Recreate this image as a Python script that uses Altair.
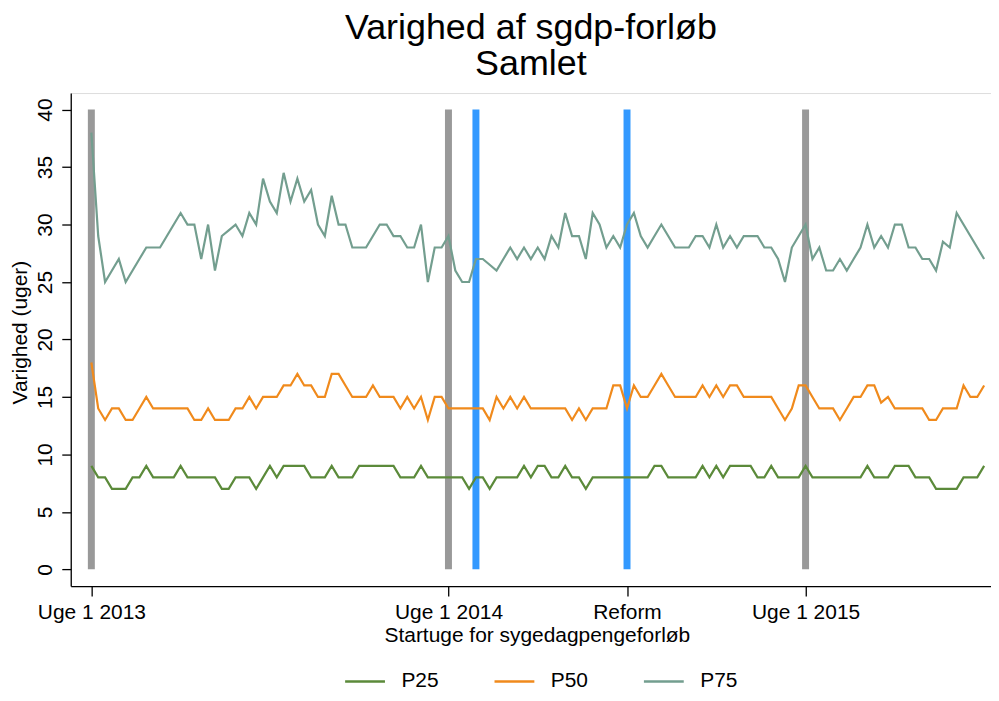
import altair as alt
import pandas as pd

FONT = "Liberation Sans"

weeks = list(range(131))

p25 = [9, 8, 8, 7, 7, 7, 8, 8, 9, 8,
       8, 8, 8, 9, 8, 8, 8, 8, 8, 7,
       7, 8, 8, 8, 7, 8, 9, 8, 9, 9,
       9, 9, 8, 8, 8, 9, 8, 8, 8, 9,
       9, 9, 9, 9, 9, 8, 8, 8, 9, 8,
       8, 8, 8, 8, 8, 7, 8, 8, 7, 8,
       8, 8, 8, 9, 8, 9, 9, 8, 8, 9,
       8, 8, 7, 8, 8, 8, 8, 8, 8, 8,
       8, 8, 9, 9, 8, 8, 8, 8, 8, 9,
       8, 9, 8, 9, 9, 9, 9, 8, 8, 9,
       8, 8, 8, 8, 9, 8, 8, 8, 8, 8,
       8, 8, 8, 9, 8, 8, 8, 9, 9, 9,
       8, 8, 8, 7, 7, 7, 7, 8, 8, 8,
       9]

p50 = [18, 14, 13, 14, 14, 13, 13, 14, 15, 14,
       14, 14, 14, 14, 14, 13, 13, 14, 13, 13,
       13, 14, 14, 15, 14, 15, 15, 15, 16, 16,
       17, 16, 16, 15, 15, 17, 17, 16, 15, 15,
       15, 16, 15, 15, 15, 14, 15, 14, 15, 13,
       15, 15, 14, 14, 14, 14, 14, 14, 13, 15,
       14, 15, 14, 15, 14, 14, 14, 14, 14, 14,
       13, 14, 13, 14, 14, 14, 16, 16, 14, 16,
       15, 15, 16, 17, 16, 15, 15, 15, 15, 16,
       15, 16, 15, 16, 16, 15, 15, 15, 15, 15,
       14, 13, 14, 16, 16, 15, 14, 14, 14, 13,
       14, 15, 15, 16, 16, 14.5, 15, 14, 14, 14,
       14, 14, 13, 13, 14, 14, 14, 16, 15, 15,
       16]

p75 = [38, 29, 25, 26, 27, 25, 26, 27, 28, 28,
       28, 29, 30, 31, 30, 30, 27, 30, 26, 29,
       29.5, 30, 29, 31, 30, 34, 32, 31, 34.5, 32,
       34, 32, 33, 30, 29, 32.5, 30, 30, 28, 28,
       28, 29, 30, 30, 29, 29, 28, 28, 30, 25,
       28, 28, 29, 26, 25, 25, 27, 27, 26.5, 26,
       27, 28, 27, 28, 27, 28, 27, 29, 28, 31,
       29, 29, 27, 31, 30, 28, 29, 28, 30, 31,
       29, 28, 29, 30, 29, 28, 28, 28, 29, 29,
       28, 30, 28, 29, 28, 29, 29, 29, 28, 28,
       27, 25, 28, 29, 30, 27, 28, 26, 26, 27,
       26, 27, 28, 30, 28, 29, 28, 30, 30, 28,
       28, 27, 27, 26, 28.5, 28, 31, 30, 29, 28,
       27]

series_names = ["P25", "P50", "P75"]
series_colors = ["#5b8a3a", "#f08a1c", "#739e8f"]

gray_weeks = [0, 52, 104]
blue_weeks = [56, 78]
bar_low = 0
bar_high = 40

tick_weeks = [0, 52, 78, 104]
tick_labels = ["Uge 1 2013", "Uge 1 2014", "Reform", "Uge 1 2015"]
y_ticks = [0, 5, 10, 15, 20, 25, 30, 35, 40]

rows = []
for name, vals in zip(series_names, [p25, p50, p75]):
    for w, v in zip(weeks, vals):
        rows.append({"week": w, "value": v, "serie": name})
df = pd.DataFrame(rows)

gray_df = pd.DataFrame({"week": gray_weeks, "lo": bar_low, "hi": bar_high})
blue_df = pd.DataFrame({"week": blue_weeks, "lo": bar_low, "hi": bar_high})

label_expr = " : ".join(
    f"datum.value == {w} ? '{l}'" for w, l in zip(tick_weeks, tick_labels)
) + " : ''"

xscale = alt.Scale(domain=[-3, 131], nice=False, zero=False)
yscale = alt.Scale(domain=[-1.45, 41.44], nice=False, zero=False)

xaxis = alt.Axis(
    title="Startuge for sygedagpengeforløb",
    values=tick_weeks, labelExpr=label_expr, grid=False,
    domainColor="black", domainWidth=1.3, tickColor="black", tickWidth=1.3,
    tickSize=10, labelPadding=6, labelFontSize=21, labelFont=FONT,
    labelColor="black", titleFontSize=21, titleFont=FONT,
    titleFontWeight="normal", titleColor="black",
    titleBaseline="alphabetic", titleY=56, titleX=468, titleAlign="center",
    labelOverlap=False, labelFlush=False,
)
yaxis = alt.Axis(
    title="Varighed (uger)", values=y_ticks, grid=False,
    domainColor="black", domainWidth=1.3, tickColor="black", tickWidth=1.3,
    tickSize=9, labelPadding=10, labelFontSize=21, labelFont=FONT,
    labelColor="black", labelAngle=270, labelAlign="center",
    labelBaseline="alphabetic", titleFontSize=21, titleFont=FONT,
    titleFontWeight="normal", titleColor="black", titleAngle=270,
    titleBaseline="alphabetic", titleX=-44, titleY=240, titleAlign="center",
)

gray = alt.Chart(gray_df).mark_rule(color="#999999", strokeWidth=7).encode(
    x=alt.X("week:Q", scale=xscale, axis=xaxis),
    y=alt.Y("lo:Q", scale=yscale, axis=yaxis),
    y2="hi:Q",
)
blue = alt.Chart(blue_df).mark_rule(color="#3399ff", strokeWidth=7).encode(
    x=alt.X("week:Q", scale=xscale, axis=xaxis),
    y=alt.Y("lo:Q", scale=yscale, axis=yaxis),
    y2="hi:Q",
)

lines = alt.Chart(df).mark_line(strokeWidth=2.2).encode(
    x=alt.X("week:Q", scale=xscale, axis=xaxis),
    y=alt.Y("value:Q", scale=yscale, axis=yaxis),
    color=alt.Color(
        "serie:N",
        scale=alt.Scale(domain=series_names, range=series_colors),
        legend=alt.Legend(
            title=None, orient="none", legendX=274, legendY=569,
            direction="horizontal", symbolType="stroke", symbolSize=1600,
            symbolStrokeWidth=2.5, labelFontSize=21, labelFont=FONT,
            labelColor="black", labelOffset=15, columnPadding=50, padding=0,
        ),
    ),
    detail="serie:N",
)

chart = alt.layer(gray, blue, lines).properties(
    width=924,
    height=495,
    padding={"left": 63, "top": 84, "right": 0, "bottom": 104},
    autosize=alt.AutoSizeParams(type="none"),
    title=alt.TitleParams(
        text=["Varighed af sgdp-forløb", "Samlet"], fontSize=36, font=FONT,
        fontWeight="normal", color="black", anchor="middle", frame="group",
        baseline="alphabetic", lineHeight=36, offset=-18,
    ),
).configure_view(stroke=None).configure(background="white")

chart.save("out.html", embed_options={"renderer": "svg", "actions": False})
